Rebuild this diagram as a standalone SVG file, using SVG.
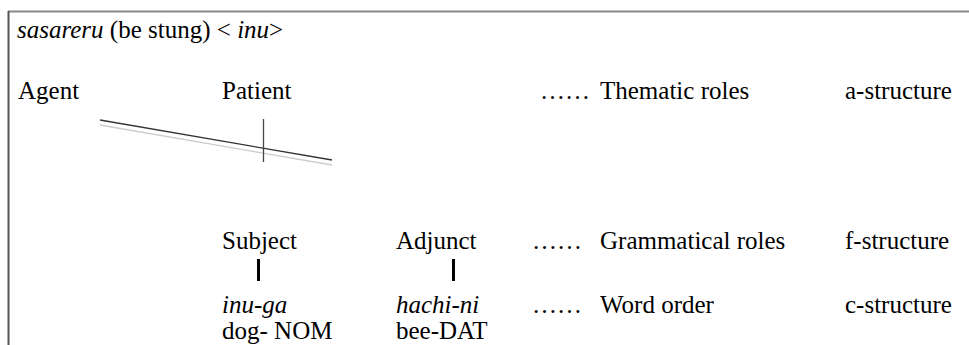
<svg xmlns="http://www.w3.org/2000/svg" width="969" height="345" viewBox="0 0 969 345">
<style>
text{font-family:"Liberation Serif","Times New Roman",serif;font-size:25px;fill:#000}
.it{font-style:italic}
.bar{stroke:#000;stroke-width:3}
</style>
<rect width="969" height="345" fill="#fff"/>
<g id="frame">
<line x1="8" y1="11.5" x2="969" y2="11.5" stroke="#888" stroke-width="2"/>
<line x1="8.5" y1="11" x2="8.5" y2="345" stroke="#555" stroke-width="2"/>
</g>
<g id="title"><text x="17" y="38"><tspan class="it">sasareru</tspan> (be stung) &lt; <tspan class="it">inu</tspan>&gt;</text></g>
<g id="agent"><text x="18" y="99">Agent</text></g>
<g id="patient"><text x="222" y="99">Patient</text></g>
<g id="row-a"><text x="540" y="99">……</text><text x="600" y="99">Thematic roles</text><text x="845" y="99">a-structure</text></g>
<g id="subject"><text x="222" y="249">Subject</text></g>
<g id="adjunct"><text x="396" y="249">Adjunct</text></g>
<g id="row-f"><text x="532" y="249">……</text><text x="600" y="249">Grammatical roles</text><text x="845" y="249">f-structure</text></g>
<g id="inuga"><text class="it" x="222" y="313">inu-ga</text><text x="222" y="339">dog- NOM</text></g>
<g id="hachini"><text class="it" x="396" y="313">hachi-ni</text><text x="396" y="339">bee-DAT</text></g>
<g id="row-c"><text x="532" y="313">……</text><text x="600" y="313">Word order</text><text x="845" y="313">c-structure</text></g>
<g id="connectors">
<line x1="100" y1="125" x2="332" y2="165" stroke="#ccc" stroke-width="1.3"/>
<line x1="100" y1="120" x2="332" y2="160" stroke="#333" stroke-width="1.3"/>
<line x1="263.5" y1="119" x2="263.5" y2="162" stroke="#444" stroke-width="1.3"/>
<line class="bar" x1="258.5" y1="259" x2="258.5" y2="281"/>
<line class="bar" x1="453.5" y1="259" x2="453.5" y2="281"/>
</g>
</svg>
